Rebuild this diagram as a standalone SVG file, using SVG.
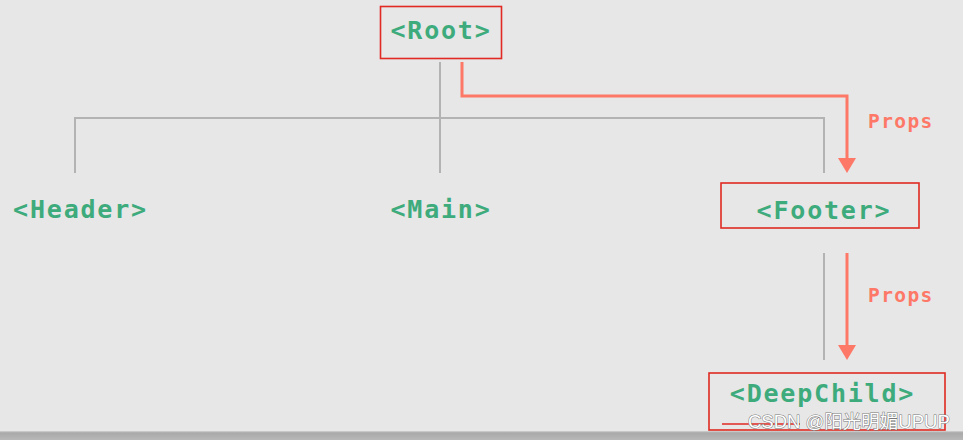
<svg xmlns="http://www.w3.org/2000/svg" width="963" height="440" viewBox="0 0 963 440">
  <defs>
    <linearGradient id="bottom" x1="0" y1="0" x2="0" y2="1">
      <stop offset="0" stop-color="#d4d4d4"/>
      <stop offset="0.2" stop-color="#a9a9a9"/>
      <stop offset="1" stop-color="#b8b8b8"/>
    </linearGradient>
    <style>
      .lbl { font-family: "DejaVu Sans Mono", "Liberation Mono", monospace; font-weight: bold; font-size: 25px; letter-spacing: 1.8px; fill: #3dab7c; }
      .props { font-family: "DejaVu Sans Mono", "Liberation Mono", monospace; font-weight: bold; font-size: 19.5px; letter-spacing: 1.4px; fill: #fd7867; }
      .box { fill: none; stroke: #e02a22; stroke-width: 1.6; }
      .tree { fill: none; stroke: #b3b3b3; stroke-width: 2; }
      .arrow { fill: none; stroke: #fd7867; stroke-width: 3; }
      .head { fill: #fd7867; }
      .wm { font-family: "Liberation Sans", "Noto Sans CJK SC", sans-serif; font-size: 18.5px; fill: #ffffff; stroke: #777777; stroke-width: 1; paint-order: stroke; }
    </style>
  </defs>
  <rect x="0" y="0" width="963" height="440" fill="#e7e7e7"/>
  <rect x="0" y="431" width="963" height="9" fill="url(#bottom)"/>

  <g id="connectors">
    <path class="tree" d="M440,62 V173"/>
    <path class="tree" d="M75,173 V118 H824 V173"/>
    <path class="tree" d="M824,253 V360"/>
    <path class="arrow" d="M462,62 V96 H847 V158"/>
    <path class="head" d="M838,158 L856,158 L847,173 Z"/>
    <path class="arrow" d="M847,253 V345"/>
    <path class="head" d="M838,345 L856,345 L847,360 Z"/>
    <text class="props" x="868" y="127.5">Props</text>
    <text class="props" x="868" y="302">Props</text>
  </g>

  <g id="root">
    <rect class="box" x="380.5" y="6.5" width="121" height="52"/>
    <text class="lbl" x="441" y="39" text-anchor="middle">&lt;Root&gt;</text>
  </g>
  <g id="header">
    <text class="lbl" x="80.5" y="218" text-anchor="middle">&lt;Header&gt;</text>
  </g>
  <g id="main">
    <text class="lbl" x="441" y="218" text-anchor="middle">&lt;Main&gt;</text>
  </g>
  <g id="footer">
    <rect class="box" x="721" y="183" width="198" height="45"/>
    <text class="lbl" x="824" y="219" text-anchor="middle">&lt;Footer&gt;</text>
  </g>
  <g id="deepchild">
    <rect class="box" x="709" y="373" width="236" height="57"/>
    <path d="M722,424 H800" stroke="#e02a22" stroke-width="1.6"/>
    <text class="lbl" x="822.5" y="402" text-anchor="middle">&lt;DeepChild&gt;</text>
  </g>
  <text class="wm" x="748" y="428">CSDN @阳光明媚UPUP</text>
</svg>
